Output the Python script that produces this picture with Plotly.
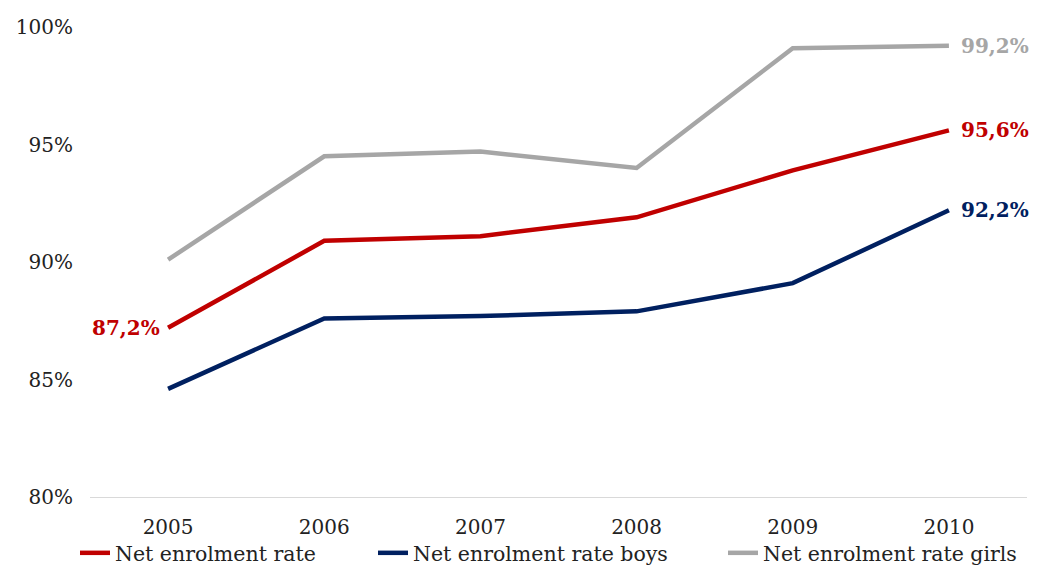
import plotly.graph_objects as go

years = ["2005", "2006", "2007", "2008", "2009", "2010"]
total = [87.2, 90.9, 91.1, 91.9, 93.9, 95.6]
boys = [84.6, 87.6, 87.7, 87.9, 89.1, 92.2]
girls = [90.1, 94.5, 94.7, 94.0, 99.1, 99.2]
names = ["Net enrolment rate", "Net enrolment rate boys", "Net enrolment rate girls"]
colors = ["#C00000", "#002060", "#A6A6A6"]
y_ticks = [80, 85, 90, 95, 100]

font = "DejaVu Serif"
fig = go.Figure()
legend_ids = ["legend", "legend2", "legend3"]
for name, vals, col, lg in zip(names, [total, boys, girls], colors, legend_ids):
    fig.add_trace(go.Scatter(x=years, y=vals, mode="lines", name=name, legend=lg,
                             line=dict(color=col, width=4.5), cliponaxis=False))

def fmt(v):
    return f"{v:.1f}".replace(".", ",") + "%"

last = len(years) - 1
fig.add_annotation(x=0, y=total[0], text=f"<b>{fmt(total[0])}</b>", showarrow=False,
                   xanchor="right", xshift=-6, font=dict(color=colors[0], size=20, family=font))
for vals, col in zip([total, boys, girls], colors):
    fig.add_annotation(x=last, y=vals[-1], text=f"<b>{fmt(vals[-1])}</b>", showarrow=False,
                       xanchor="left", xshift=10, font=dict(color=col, size=20, family=font))

def leg(xpx):
    return dict(orientation="h", x=(xpx - 90) / 937, xanchor="left",
                yref="container", y=1 - 553 / 566, yanchor="middle",
                font=dict(size=20.5, family=font, color="#222"), bgcolor="rgba(0,0,0,0)")

fig.update_layout(
    width=1040, height=566,
    margin=dict(l=90, r=13, t=27, b=69, autoexpand=False),
    plot_bgcolor="white", paper_bgcolor="white",
    font=dict(family=font, size=20, color="#222"),
    showlegend=True,
    legend=leg(75), legend2=leg(373), legend3=leg(723),
    xaxis=dict(type="category", range=[-0.5, 5.5], showgrid=False, showline=True,
               linecolor="#D9D9D9", linewidth=1, ticks="", tickfont=dict(size=20),
               ticklabelstandoff=12),
    yaxis=dict(range=[80, 100], tickvals=y_ticks, ticktext=[f"{t}%" for t in y_ticks],
               showgrid=False, zeroline=False, showline=False, ticks="",
               tickfont=dict(size=20), ticklabelstandoff=16),
)
fig.write_html("out.html")
